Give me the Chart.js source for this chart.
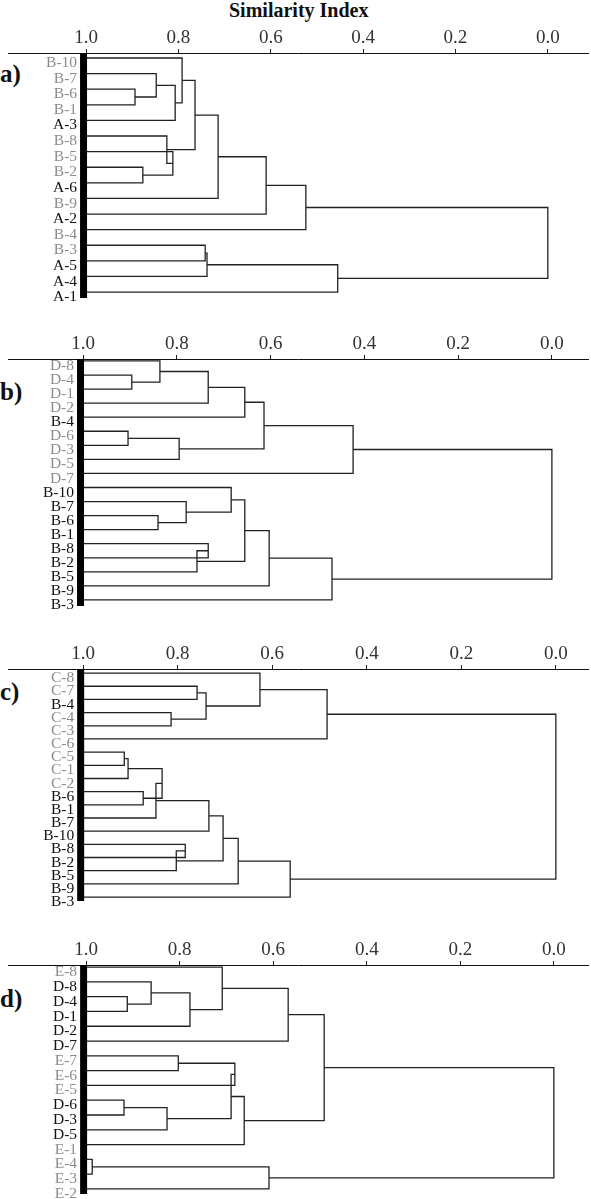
<!DOCTYPE html>
<html>
<head>
<meta charset="utf-8">
<script src="https://cdn.jsdelivr.net/npm/chart.js@4.4.0/dist/chart.umd.min.js"></script>
<style>
  body { margin: 0; background: #fff; width: 591px; height: 1199px; position: relative; overflow: hidden;
         font-family: "Liberation Serif", "Times New Roman", serif; }
  .title { position: absolute; top: 0; left: 229px; font-weight: bold; font-size: 20px; line-height: 20px; color: #111; }
  .tag { position: absolute; left: 0; font-weight: bold; font-size: 25px; line-height: 25px; color: #111; }
  canvas { position: absolute; left: 0; }
</style>
</head>
<body>
<div class="title">Similarity Index</div>
<div class="tag" style="top:61px">a)</div>
<div class="tag" style="top:379px">b)</div>
<div class="tag" style="top:679px">c)</div>
<div class="tag" style="top:986px">d)</div>
<canvas id="chartA" width="591" height="295" style="top:15px"></canvas>
<canvas id="chartB" width="591" height="297" style="top:321px"></canvas>
<canvas id="chartC" width="591" height="282" style="top:631px"></canvas>
<canvas id="chartD" width="591" height="279" style="top:927px"></canvas>
<script>
// similarity axis ticks
const tickValues = [0.0, 0.2, 0.4, 0.6, 0.8, 1.0];

// a) leaves top to bottom, merges as [child, child, similarity]
// (indices below leaf count are leaves, above are earlier merges)
const leavesA = ['B-10', 'B-7', 'B-6', 'B-1', 'A-3', 'B-8', 'B-5', 'B-2', 'A-6', 'B-9', 'A-2', 'B-4', 'B-3', 'A-5', 'A-4', 'A-1'];
const greyA = 'B';
const mergesA = [
    [2, 3, 0.894], [1, 16, 0.848], [17, 4, 0.807], [0, 18, 0.792],
    [7, 8, 0.877], [6, 20, 0.812], [5, 21, 0.825], [19, 22, 0.764],
    [23, 9, 0.714], [24, 10, 0.610], [25, 11, 0.524],
    [12, 13, 0.742], [27, 14, 0.738], [28, 15, 0.455], [26, 29, 0.0]
];

// b)
const leavesB = ['D-8', 'D-4', 'D-1', 'D-2', 'B-4', 'D-6', 'D-3', 'D-5', 'D-7', 'B-10', 'B-7', 'B-6', 'B-1', 'B-8', 'B-2', 'B-5', 'B-9', 'B-3'];
const greyB = 'D';
const mergesB = [
    [1, 2, 0.896], [0, 18, 0.836], [19, 3, 0.733], [20, 4, 0.655],
    [5, 6, 0.904], [22, 7, 0.795], [21, 23, 0.614], [24, 8, 0.424],
    [11, 12, 0.840], [10, 26, 0.780], [9, 27, 0.684],
    [13, 14, 0.733], [29, 15, 0.757], [28, 30, 0.655], [31, 16, 0.603],
    [32, 17, 0.469], [25, 33, 0.0]
];

// c)
const leavesC = ['C-8', 'C-7', 'B-4', 'C-4', 'C-3', 'C-6', 'C-5', 'C-1', 'C-2', 'B-6', 'B-1', 'B-7', 'B-10', 'B-8', 'B-2', 'B-5', 'B-9', 'B-3'];
const greyC = 'C';
const mergesC = [
    [1, 2, 0.759], [3, 4, 0.814], [18, 19, 0.740], [0, 20, 0.626], [21, 5, 0.484],
    [6, 7, 0.913], [23, 8, 0.905], [9, 10, 0.873], [24, 25, 0.833], [26, 11, 0.846],
    [27, 12, 0.734], [13, 14, 0.784], [29, 15, 0.803], [28, 30, 0.704],
    [31, 16, 0.672], [32, 17, 0.562], [22, 33, 0.0]
];

// d)
const leavesD = ['E-8', 'D-8', 'D-4', 'D-1', 'D-2', 'D-7', 'E-7', 'E-6', 'E-5', 'D-6', 'D-3', 'D-5', 'E-1', 'E-4', 'E-3', 'E-2'];
const greyD = 'E';
const mergesD = [
    [2, 3, 0.912], [1, 16, 0.861], [17, 4, 0.778], [0, 18, 0.709], [19, 5, 0.568],
    [6, 7, 0.803], [21, 8, 0.682], [9, 10, 0.919], [23, 11, 0.827], [22, 24, 0.690],
    [25, 12, 0.662], [20, 26, 0.491], [13, 14, 0.987], [28, 15, 0.609], [27, 29, 0.0]
];

// turn merges into bracket polylines: child -> merge height -> other child
function buildSegments(n, merges) {
    const nodes = [];
    for (let i = 0; i < n; i++) nodes.push({ x: 1.0, y: i });
    const segs = [];
    merges.forEach(([a, b, h]) => {
        const A = nodes[a], B = nodes[b];
        segs.push([{ x: A.x, y: A.y }, { x: h, y: A.y }, { x: h, y: B.y }, { x: B.x, y: B.y }]);
        nodes.push({ x: h, y: (A.y + B.y) / 2 });
    });
    return segs;
}

// black bar at 1.0 and the leaf names next to it
function leafPlugin(labels, grey) {
    return {
        id: 'leaves',
        afterDatasetsDraw(chart) {
            const { ctx, chartArea, scales: { x, y } } = chart;
            const px = x.getPixelForValue(1.0);
            ctx.save();
            ctx.fillStyle = '#000';
            ctx.fillRect(px - 6, chartArea.top, 7, chartArea.bottom - chartArea.top);
            ctx.font = '15.5px "Liberation Serif"';
            ctx.textAlign = 'right';
            ctx.textBaseline = 'middle';
            labels.forEach((lab, i) => {
                ctx.fillStyle = lab.startsWith(grey) ? '#8c8c8c' : '#111';
                ctx.fillText(lab, px - 9, y.getPixelForValue(i) + 5);
            });
            ctx.restore();
        }
    };
}

function createDendrogram(canvasId, labels, grey, merges, xMin, xMax, yMin, yMax) {
    const ctx = document.getElementById(canvasId).getContext('2d');
    const datasets = buildSegments(labels.length, merges).map(seg => ({
        data: seg,
        showLine: true,
        borderColor: '#222',
        borderWidth: 1.3,
        pointRadius: 0,
        tension: 0,
        fill: false
    }));
    return new Chart(ctx, {
        type: 'scatter',
        data: { datasets: datasets },
        options: {
            responsive: false,
            animation: false,
            layout: { padding: { top: 13, bottom: 12, left: 8, right: 3 } },
            plugins: { legend: { display: false }, tooltip: { enabled: false } },
            scales: {
                x: {
                    type: 'linear',
                    position: 'top',
                    reverse: true,
                    min: xMin,
                    max: xMax,
                    afterBuildTicks: scale => { scale.ticks = tickValues.map(v => ({ value: v })); },
                    ticks: {
                        callback: v => v.toFixed(1),
                        font: { family: 'Liberation Serif', size: 19, lineHeight: 1 },
                        color: '#333',
                        padding: 1,
                        maxRotation: 0,
                        autoSkip: false
                    },
                    grid: { drawOnChartArea: false, tickLength: 4, color: '#222' },
                    border: { display: true, color: '#111', width: 1 }
                },
                y: {
                    type: 'linear',
                    display: false,
                    reverse: true,
                    min: yMin,
                    max: yMax
                }
            }
        },
        plugins: [leafPlugin(labels, grey)]
    });
}

createDendrogram('chartA', leavesA, greyA, mergesA, -0.087, 1.169, -0.32, 15.38);
createDendrogram('chartB', leavesB, greyB, mergesB, -0.077, 1.160, -0.14, 17.43);
createDendrogram('chartC', leavesC, greyC, mergesC, -0.068, 1.159, -0.31, 17.30);
createDendrogram('chartD', leavesD, greyD, mergesD, -0.073, 1.167, -0.14, 15.34);
</script>
</body>
</html>
